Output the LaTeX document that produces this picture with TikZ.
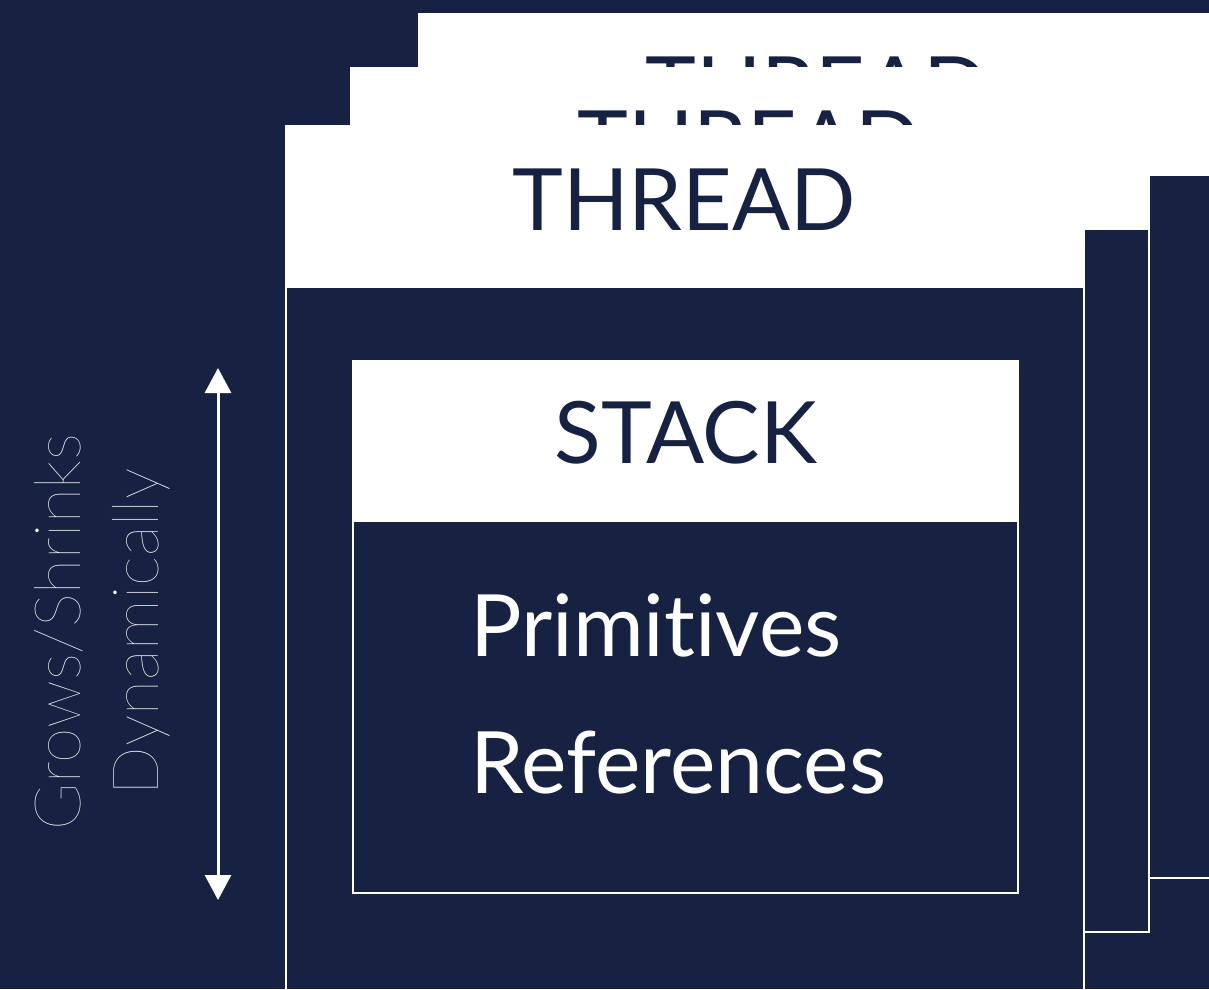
\documentclass[tikz,border=0pt]{standalone}
\usepackage{fontspec}
\setmainfont{Lato}[Ligatures=NoCommon]
\newfontfamily\thinfont{Lato Hairline}
\usepackage{tikz}
\usetikzlibrary{arrows.meta}
\definecolor{navy}{HTML}{172242}

\begin{document}
\begin{tikzpicture}[x=1pt, y=-1pt,
    card/.style={fill=white},
    body/.style={fill=navy},
    title/.style={text=navy, font=\fontsize{86}{100}\selectfont, inner sep=0pt, anchor=base},
    item/.style={text=white, font=\fontsize{86}{100}\selectfont, inner sep=0pt, anchor=base west},
    growarrow/.style={white, line width=3pt, {Triangle[width=26pt,length=25pt]}-{Triangle[width=26pt,length=25pt]}}]
    \fill[navy] (0,0) rectangle (1209,989);
    \useasboundingbox (0,0) rectangle (1209,989);

    \foreach \dx/\dy/\name in {133/-112/threadc, 65/-58/threadb, 0/0/threada} {
        \fill[card] (285+\dx,125+\dy) rectangle (1085+\dx,991+\dy);
        \fill[body] (287+\dx,288+\dy) rectangle (1083+\dx,989+\dy);
        \node[title] (\name) at (684+\dx,230+\dy) {THREAD};
    }

    \fill[card] (352,360) rectangle (1019,894);
    \fill[body] (354,522) rectangle (1017,892);
    \node[title] (stack) at (686,463) {STACK};
    \node[item] (prim) at (470,656) {Primitives};
    \node[item] (refs) at (470,793) {References};

    \node[text=white, font=\thinfont\fontsize{64}{78}\selectfont, align=center, rotate=90, inner sep=0pt] (grows) at (102,632) {Grows/Shrinks\\Dynamically};
    \coordinate (growtop) at (218,368);
    \coordinate (growbot) at (218,900);
    \draw[growarrow] (growtop) -- (growbot);
\end{tikzpicture}
\end{document}
